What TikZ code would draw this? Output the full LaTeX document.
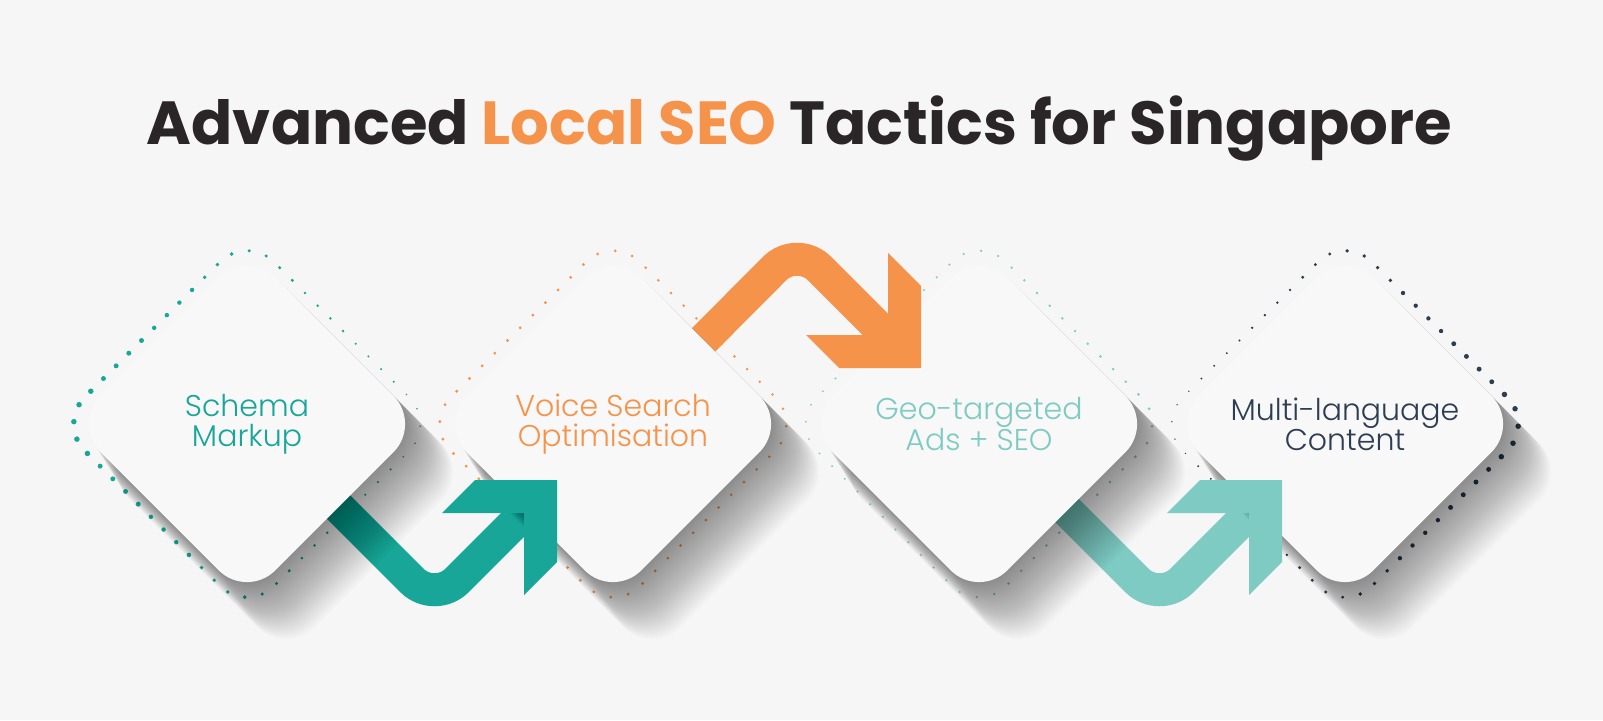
\documentclass[tikz,border=0pt]{standalone}
\usepackage{fontspec}
\newfontfamily\titlefont{Poppins}
\newfontfamily\cardfont{Poppins Light}

\definecolor{bgcol}{HTML}{F6F6F6}
\definecolor{cardcol}{HTML}{F8F8F8}
\definecolor{seoteal}{HTML}{17A697}
\definecolor{seoorange}{HTML}{F5934A}
\definecolor{seolight}{HTML}{7DCBC3}
\definecolor{seonavy}{HTML}{2D3D52}
\definecolor{titlecol}{HTML}{2A2628}

\tikzstyle{card}=[fill=cardcol, rounded corners=40pt, minimum size=247pt, inner sep=0pt, rotate=45]
\tikzstyle{castshadow}=[fill=black, opacity=0.016, rounded corners=40pt]
\tikzstyle{dotring}=[line cap=round, dash pattern=on 0pt off 17.93pt, rounded corners=38pt]
\tikzstyle{shaft}=[line width=33pt, rounded corners=32pt]
\tikzstyle{cardtext}=[align=center, font=\cardfont\fontsize{30}{30}\selectfont]

\tikzset{tiphead/.pic={\fill (0,0) -- (-82,0) -- (-115,33) -- (-33,33) -- (-33,115) -- (0,82) -- cycle;}}

% rounded diamond: centre x, centre y, half diagonal
\newcommand{\rdiamond}[3]{({#1},{#2}) ++({-(#3)/2},{-(#3)/2}) -- ++({(#3)/2},{-(#3)/2}) -- ++({#3},{#3}) -- ++({-(#3)},{#3}) -- ++({-(#3)},{-(#3)}) -- cycle}

% dotted ring, dot size going from left to right
\newcommand{\ringdots}[4]{%
  \foreach \s in {0,...,7}{
    \pgfmathsetmacro{\w}{#3+(#4-#3)*\s/7}
    \begin{scope}
      \clip ({#1-200+\s*50},200) rectangle ++(50,450);
      \draw[dotring, #2, line width=\w pt] \rdiamond{#1}{424}{189};
    \end{scope}
  }}

% soft shadow under a card
\newcommand{\cardshadow}[1]{%
  \foreach \k in {1,...,30}
    \fill[castshadow] \rdiamond{#1+\k*1.3}{424+\k*1.6}{174.6+\k*0.3};}

\begin{document}
\begin{tikzpicture}[x=1pt, y=-1pt]
  \useasboundingbox (0,0) rectangle (1603,720);
  \fill[bgcol] (0,0) rectangle (1603,720);

  \node[anchor=base] (title) at (799.5,144) {\resizebox{1305pt}{!}{\titlefont\bfseries\color{titlecol}Advanced \textcolor{seoorange}{Local SEO} Tactics for Singapore}};

  % dotted rings
  \ringdots{247}{seoteal}{5.5}{1.8}
  \ringdots{613}{seoorange}{3.2}{2.8}
  \ringdots{979}{seolight}{2}{3}
  \ringdots{1345}{seonavy}{1.5}{5.5}

  % arrow shafts
  \coordinate (s1) at (315.75,484.25);
  \coordinate (e1) at (528,509.5);
  \coordinate (s2) at (703.5,340);
  \coordinate (e2) at (893,342);
  \coordinate (s3) at (1040.75,484.25);
  \coordinate (e3) at (1253,509.5);
  \draw[shaft, seoteal] (s1) -- (434.5,603) -- (e1);
  \draw[shaft, seoorange] (s2) -- (797,246) -- (e2);
  \draw[shaft, seolight] (s3) -- (1159.5,603) -- (e3);

  % shadows and cards
  \cardshadow{247}
  \cardshadow{613}
  \cardshadow{979}
  \cardshadow{1345}
  \node[card] (schema) at (247,424) {};
  \node[card] (voice)  at (613,424) {};
  \node[card] (geo)    at (979,424) {};
  \node[card] (multi)  at (1345,424) {};

  % arrow heads
  \pic[seoteal] at (557,480) {tiphead};
  \pic[seoorange, rotate=-90] at (921,368) {tiphead};
  \pic[seolight] at (1282,480) {tiphead};

  \node[cardtext, text=seoteal]   (schematext) at (schema) {Schema\\Markup};
  \node[cardtext, text=seoorange] (voicetext)  at (voice)  {Voice Search\\Optimisation};
  \node[cardtext, text=seolight]  (geotext)    at (geo)    {Geo-targeted\\Ads + SEO};
  \node[cardtext, text=seonavy]   (multitext)  at (multi)  {Multi-language\\Content};
\end{tikzpicture}
\end{document}
